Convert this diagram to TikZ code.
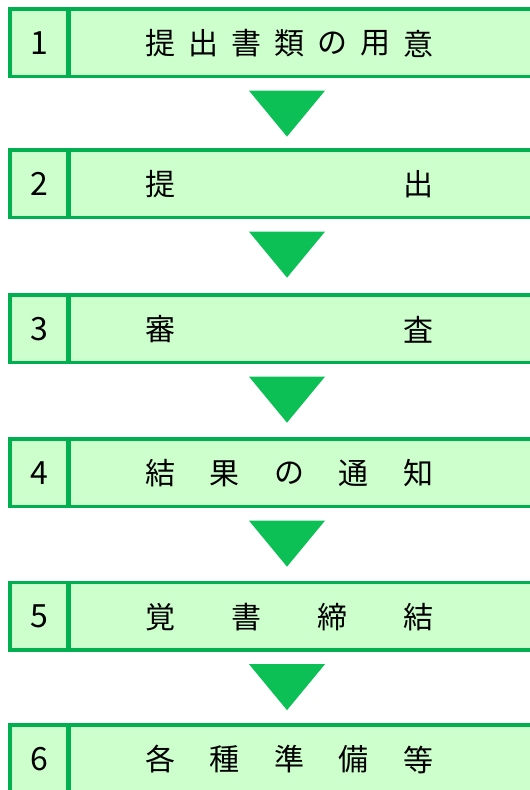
\documentclass[tikz,border=0pt]{standalone}
\usepackage{fontspec}
\setmainfont{Noto Sans CJK JP}
\usetikzlibrary{calc}
\definecolor{bordergreen}{HTML}{00B050}
\definecolor{fillgreen}{HTML}{CCFFCC}
\definecolor{arrowgreen}{HTML}{0CC055}
\tikzset{
  numcell/.style={draw=bordergreen, line width=3.3pt, fill=fillgreen, minimum width=58pt, minimum height=67.5pt, inner sep=0pt, font=\fontsize{32}{32}\selectfont},
  maincell/.style={draw=bordergreen, line width=3.3pt, fill=fillgreen, minimum width=500pt, minimum height=67.5pt, inner sep=0pt, anchor=west},
  ch/.style={inner sep=0pt, font=\fontsize{30}{30}\selectfont},
  downarrow/.style={fill=arrowgreen},
}
\newcommand\rowtext[3]{%
  \foreach \c [count=\i] in {#3} {\xdef\nchars{\i}}%
  \foreach \c [count=\i from 0] in {#3} {\node[ch] (#1-\i) at ({160+\i*258/(\nchars-1)}, #2) {\c};}%
}
\begin{document}
\begin{tikzpicture}[x=1pt,y=-1pt]
\useasboundingbox (0,0) rectangle (530,790);
\clip (0,0) rectangle (530,790);
\foreach \k/\t in {1/9, 2/150, 3/295, 4/439, 5/582.5, 6/725} {
  \node[maincell] (m\k) at (68,\t+33.75) {};
  \node[numcell] (n\k) at (39,\t+33.75) {\k};
}
\rowtext{t1}{43.5}{提,出,書,類,の,用,意}
\rowtext{t2}{184.5}{提,出}
\rowtext{t3}{329.5}{審,査}
\rowtext{t4}{473.5}{結,果,の,通,知}
\rowtext{t5}{617}{覚,書,締,結}
\rowtext{t6}{759.5}{各,種,準,備,等}
\foreach \a in {1,...,5} {
  \fill[downarrow] ($(m\a.south west)+(181,12.5)$) -- ($(m\a.south west)+(257,12.5)$)
    -- ($(m\a.south west)+(219,58.5)$) -- cycle;
}
\end{tikzpicture}
\end{document}
